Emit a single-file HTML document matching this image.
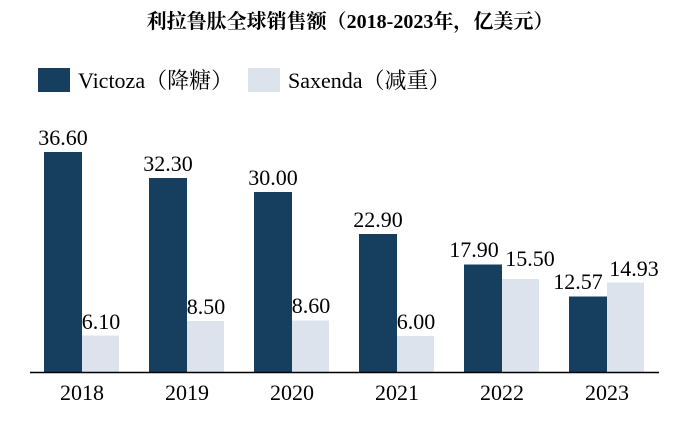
<!DOCTYPE html>
<html><head><meta charset="utf-8"><style>
html,body{margin:0;padding:0;background:#fff;}
svg{display:block}
text{font-family:"Liberation Serif","Noto Serif CJK SC",serif;fill:#000}
</style></head><body>
<svg width="700" height="421" viewBox="0 0 700 421" xmlns="http://www.w3.org/2000/svg">
<text x="350" y="28" text-anchor="middle" font-size="20" font-weight="bold">利拉鲁肽全球销售额（2018-2023年，亿美元）</text>
<rect x="38" y="68" width="32" height="24" fill="#163f5f"/>
<text x="78" y="88" font-size="22">Victoza（降糖）</text>
<rect x="248" y="68" width="32" height="24" fill="#dde3ed"/>
<text x="288" y="88" font-size="22">Saxenda（减重）</text>
<g fill="#163f5f">
<rect x="44" y="152" width="38" height="220"/>
<rect x="149" y="178" width="38" height="194"/>
<rect x="254" y="192" width="38" height="180"/>
<rect x="359" y="234" width="38" height="138"/>
<rect x="464" y="264.5" width="38" height="107.5"/>
<rect x="569" y="296.5" width="38" height="75.5"/>
</g>
<g fill="#dde3ed">
<rect x="82" y="335.5" width="37" height="36.5"/>
<rect x="187" y="321" width="37" height="51"/>
<rect x="292" y="320.5" width="37" height="51.5"/>
<rect x="397" y="336" width="37" height="36"/>
<rect x="502" y="279" width="37" height="93"/>
<rect x="607" y="282.5" width="37" height="89.5"/>
</g>
<line x1="30" y1="372.5" x2="659" y2="372.5" stroke="#000" stroke-width="1.5"/>
<g font-size="22" text-anchor="middle">
<text x="63" y="145">36.60</text>
<text x="168" y="171">32.30</text>
<text x="273" y="185">30.00</text>
<text x="378" y="227">22.90</text>
<text x="474" y="257">17.90</text>
<text x="578" y="289">12.57</text>
<text x="101" y="329">6.10</text>
<text x="206" y="314">8.50</text>
<text x="311" y="313">8.60</text>
<text x="416" y="329">6.00</text>
<text x="530" y="266">15.50</text>
<text x="634" y="276">14.93</text>
<text x="82" y="400">2018</text>
<text x="187" y="400">2019</text>
<text x="292" y="400">2020</text>
<text x="397" y="400">2021</text>
<text x="502" y="400">2022</text>
<text x="607" y="400">2023</text>
</g>
</svg>
</body></html>
